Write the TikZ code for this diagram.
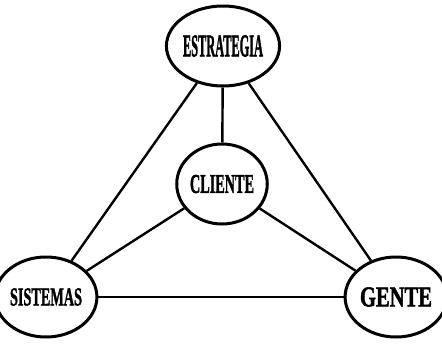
\documentclass[tikz,border=0pt]{standalone}
\usepackage{graphicx}
\usepackage{fontspec}
\newfontfamily\heavyfont{Liberation Serif}[BoldFeatures={FakeBold=1.8}]
\usetikzlibrary{shapes.geometric}

\newcommand{\lbl}[3]{\resizebox{#1}{#2}{\heavyfont\bfseries #3}}

\begin{document}
\begin{tikzpicture}[
    x=1pt, y=-1pt,
    area/.style={draw, ellipse, line width=3pt, minimum width=88pt, minimum height=80pt, inner sep=0pt},
    link/.style={draw, line width=2.4pt}
]
    \useasboundingbox (0,0) rectangle (442,343);

    \node[area] (estrategia) at (223,46)  {\lbl{80pt}{21pt}{ESTRATEGIA}};
    \node[area] (cliente)    at (222,184) {\lbl{64pt}{18pt}{CLIENTE}};
    \node[area] (sistemas)   at (46,297)  {\lbl{72pt}{17pt}{SISTEMAS}};
    \node[area] (gente)      at (396,297) {\lbl{72pt}{19pt}{GENTE}};

    \draw[link] (estrategia) -- (cliente);
    \draw[link] (estrategia) -- (sistemas);
    \draw[link] (estrategia) -- (gente);
    \draw[link] (cliente)    -- (sistemas);
    \draw[link] (cliente)    -- (gente);
    \draw[link] (sistemas)   -- (gente);
\end{tikzpicture}
\end{document}
